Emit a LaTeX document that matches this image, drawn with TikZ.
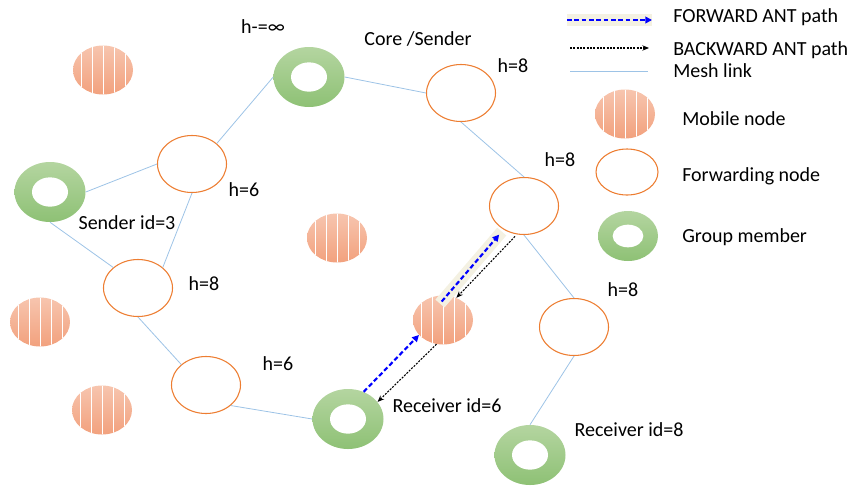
\documentclass[tikz,border=0pt]{standalone}
\usepackage{fontspec}
\setmainfont{Carlito}
\usetikzlibrary{shapes.geometric,arrows.meta}
\definecolor{NodeOrange}{HTML}{ED7D31}
\definecolor{LinkBlue}{HTML}{9DC3E6}
\definecolor{MobTop}{HTML}{F7C5AE}
\definecolor{MobBot}{HTML}{F2A17E}
\definecolor{GrpTop}{HTML}{B4D5A0}
\definecolor{GrpBot}{HTML}{8EC175}
\definecolor{AntBlue}{HTML}{0000FF}
\definecolor{AntGlow}{HTML}{F4F1E2}

\tikzset{hole x/.store in=\holex, hole y/.store in=\holey,
         hole x=13.5pt, hole y=11pt}

\begin{document}
\begin{tikzpicture}[x=0.75pt, y=-0.75pt,
  fwd/.style={ellipse, draw=NodeOrange, line width=0.8pt, fill=white,
              inner sep=0pt, minimum width=51.75pt, minimum height=42.75pt},
  mob/.style={ellipse, inner sep=0pt, top color=MobTop, bottom color=MobBot,
              minimum width=45pt, minimum height=36.75pt,
              path picture={\foreach \dx in {-22,-11,0,11,22}
                \draw[white, line width=0.7pt]
                  ([xshift=\dx*0.75pt]path picture bounding box.north) --
                  ([xshift=\dx*0.75pt]path picture bounding box.south);}},
  grp/.style={ellipse, inner sep=0pt, top color=GrpTop, bottom color=GrpBot,
              minimum width=53.25pt, minimum height=45pt,
              path picture={\fill[white] (path picture bounding box.center)
                ellipse [x radius=\holex, y radius=\holey];}},
  lbl/.style={font=\fontsize{15}{18}\selectfont, text=black, anchor=base, inner sep=0pt},
  key/.style={lbl, anchor=base west},
  link/.style={draw=LinkBlue, line width=0.6pt},
  fant/.style={-{Triangle[length=5pt,width=5pt]}, AntBlue, line width=1.6pt,
               dash pattern=on 3.5pt off 2pt},
  bant/.style={-{Stealth[length=5pt,width=4pt]}, black, line width=0.8pt,
               dash pattern=on 1.5pt off 1pt},
  glow/.style={AntGlow, line width=9pt}
]
  \useasboundingbox (0,0) rectangle (848,486);

  % group members
  \node[grp] (g1) at (50,192) {};
  \node[grp] (g2) at (309,77) {};
  \node[grp] (g3) at (348,419) {};
  \node[grp] (g4) at (530,455) {};
  % forwarding nodes
  \node[fwd] (f1) at (192,164) {};
  \node[fwd] (f2) at (138,288) {};
  \node[fwd] (f3) at (206,385) {};
  \node[fwd] (f4) at (461,93) {};
  \node[fwd] (f5) at (524,206) {};
  \node[fwd] (f6) at (574,327) {};
  % mobile nodes
  \node[mob] (m1) at (103,70) {};
  \node[mob] (m2) at (337,238) {};
  \node[mob] (m3) at (40,322) {};
  \node[mob] (m4) at (102,410) {};
  \node[mob] (m5) at (443,320) {};

  % mesh links
  \draw[link] (g1.east) -- (f1.west);
  \draw[link] (g1.south) -- (f2.north west);
  \draw[link] (f1.north east) -- (g2.west);
  \draw[link] (f1.south) -- (f2.north east);
  \draw[link] (g2.east) -- (f4.west);
  \draw[link] (f4.south) -- (f5.north);
  \draw[link] (f5.south) -- (f6.north);
  \draw[link] (f6.south) -- (g4.north);
  \draw[link] (f2.south) -- (f3.north west);
  \draw[link] (f3.south east) -- (g3.west);

  % ant paths
  \draw[glow, shorten <=-8pt, shorten >=2pt] (m5.81) -- (f5.229);
  \draw[fant] (g3.60) -- (m5.212);
  \draw[fant, shorten <=-6pt, shorten >=5pt] (m5.81) -- (f5.229);
  \draw[bant, shorten <=2pt] (f5.256) -- (m5.59);
  \draw[bant] (m5.255) -- (g3.30);

  % labels
  \node[lbl] (hinf) at (263,33) {h-=∞};
  \node[lbl] (core) at (418,45) {Core /Sender};
  \node[lbl] (h4) at (513,72) {h=8};
  \node[lbl] (h1) at (244,196) {h=6};
  \node[lbl] (s3) at (127,229) {Sender id=3};
  \node[lbl] (h5) at (560,166) {h=8};
  \node[lbl] (h2) at (204,290) {h=8};
  \node[lbl] (h6) at (623,296) {h=8};
  \node[lbl] (h3) at (278,370) {h=6};
  \node[lbl] (r6) at (447,412) {Receiver id=6};
  \node[lbl] (r8) at (629,436) {Receiver id=8};

  % legend
  \coordinate (lf1) at (567,20);  \coordinate (lf2) at (652,20);
  \coordinate (lb1) at (570,48);  \coordinate (lb2) at (649,48);
  \coordinate (ll1) at (570,71);  \coordinate (ll2) at (648,71);
  \draw[glow] (lf1) -- (lf2);
  \draw[fant] (lf1) -- (lf2);
  \draw[bant] (lb1) -- (lb2);
  \draw[link] (ll1) -- (ll2);
  \node[mob] (lm) at (625,114) {};
  \node[fwd, minimum width=46.5pt, minimum height=34.5pt] (lfw) at (627,172) {};
  \node[grp, minimum width=45pt, minimum height=37.5pt,
        hole x=11.5pt, hole y=8.5pt] (lg) at (628,236) {};
  \node[key] at (673,22) {FORWARD ANT path};
  \node[key] at (673,55) {BACKWARD ANT path};
  \node[key] at (673,77) {Mesh link};
  \node[key] at (682,125) {Mobile node};
  \node[key] at (682,181) {Forwarding node};
  \node[key] at (682,242) {Group member};
\end{tikzpicture}
\end{document}
